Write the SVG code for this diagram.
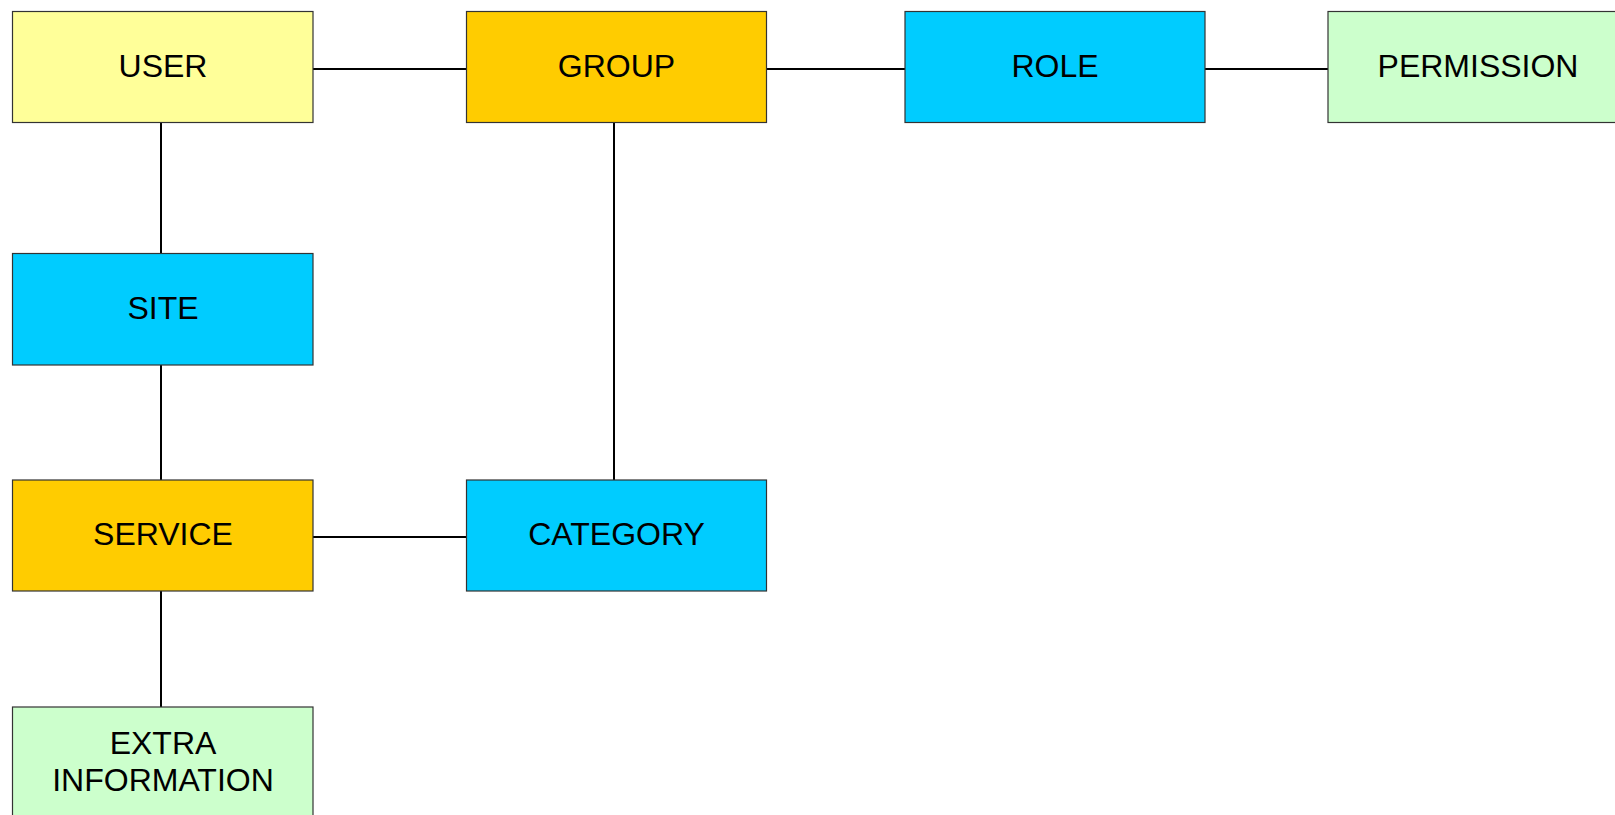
<svg xmlns="http://www.w3.org/2000/svg" width="1615" height="815" viewBox="0 0 1615 815">
<style>
.box{stroke:#333333;stroke-width:1.2}
.lbl{font-family:"Liberation Sans",Arial,sans-serif;font-size:32px;fill:#000;text-anchor:middle}
.c{stroke:#000;stroke-width:2;fill:none}
</style>
<rect width="1615" height="815" fill="#fff"/>
<g id="connectors">
<line class="c" x1="313" y1="69" x2="466.5" y2="69"/>
<line class="c" x1="766.5" y1="69" x2="905" y2="69"/>
<line class="c" x1="1205" y1="69" x2="1328" y2="69"/>
<line class="c" x1="161" y1="122.5" x2="161" y2="253.5"/>
<line class="c" x1="161" y1="365" x2="161" y2="480"/>
<line class="c" x1="161" y1="591" x2="161" y2="707"/>
<line class="c" x1="614" y1="122.5" x2="614" y2="480"/>
<line class="c" x1="313" y1="537" x2="466.5" y2="537"/>
</g>
<g id="user"><rect class="box" x="12.5" y="11.5" width="300.5" height="111" fill="#FFFF99"/><text class="lbl" x="163" y="76.5">USER</text></g>
<g id="group"><rect class="box" x="466.5" y="11.5" width="300" height="111" fill="#FFCC00"/><text class="lbl" x="616.5" y="76.5">GROUP</text></g>
<g id="role"><rect class="box" x="905" y="11.5" width="300" height="111" fill="#00CCFF"/><text class="lbl" x="1055" y="76.5">ROLE</text></g>
<g id="permission"><rect class="box" x="1328" y="11.5" width="300" height="111" fill="#CCFFCC"/><text class="lbl" x="1478" y="76.5">PERMISSION</text></g>
<g id="site"><rect class="box" x="12.5" y="253.5" width="300.5" height="111.5" fill="#00CCFF"/><text class="lbl" x="163" y="318.5">SITE</text></g>
<g id="service"><rect class="box" x="12.5" y="480" width="300.5" height="111" fill="#FFCC00"/><text class="lbl" x="163" y="544.5">SERVICE</text></g>
<g id="category"><rect class="box" x="466.5" y="480" width="300" height="111" fill="#00CCFF"/><text class="lbl" x="616.5" y="544.5">CATEGORY</text></g>
<g id="extra"><rect class="box" x="12.5" y="707" width="300.5" height="111" fill="#CCFFCC"/><text class="lbl" x="163" y="753.5">EXTRA</text><text class="lbl" x="163" y="790.5">INFORMATION</text></g>
</svg>
